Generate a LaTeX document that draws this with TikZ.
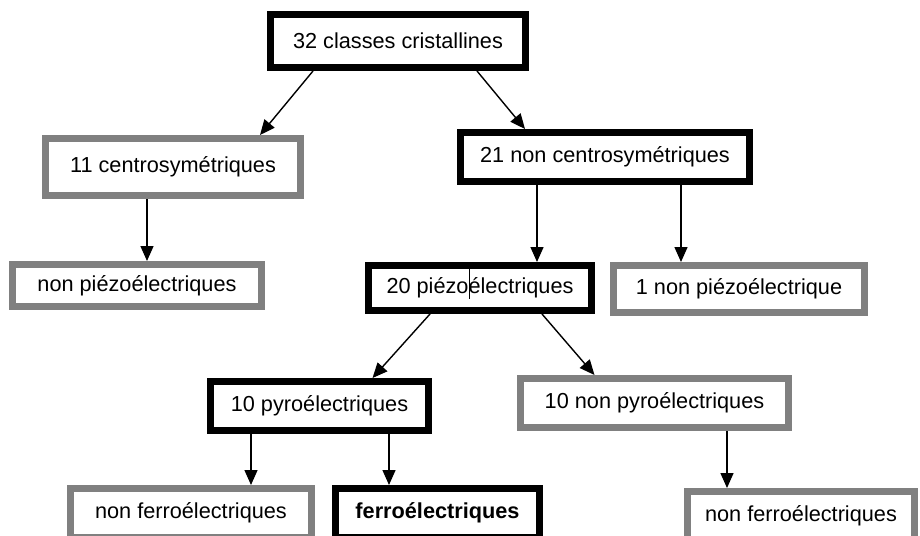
\documentclass[tikz,border=0pt]{standalone}
\usepackage{fontspec}
\setmainfont{Liberation Sans}
\usetikzlibrary{arrows.meta}

\begin{document}
\begin{tikzpicture}[x=1pt, y=-1pt, >={Triangle[width=13pt,length=15pt]},
  noir/.style={draw=black, line width=7pt, fill=white, inner sep=0pt, font=\fontsize{21.7}{26}\selectfont},
  gris/.style={noir, draw=black!50},
  fleche/.style={->, line width=1.4pt}]
\useasboundingbox (0,0) rectangle (920,535);
\clip (0,0) rectangle (920,535);
\fill[white] (0,0) rectangle (920,535);

\node[noir, minimum width=255pt, minimum height=53pt] (classes) at (398,41) {32 classes cristallines};
\node[gris, minimum width=255pt, minimum height=57pt] (centro) at (173,167) {11 centrosymétriques};
\node[noir, minimum width=289pt, minimum height=49pt] (noncentro) at (605,157) {21 non centrosymétriques};
\node[gris, minimum width=249pt, minimum height=42pt] (nonpiezo) at (137,285.5) {non piézoélectriques};
\node[noir, minimum width=223pt, minimum height=45pt] (piezo) at (480,288) {20 piézo\smash{\rule[-5pt]{1pt}{30pt}}\hspace{-1pt}électriques};
\node[gris, minimum width=251pt, minimum height=47pt] (unpiezo) at (739,289) {1 non piézoélectrique};
\node[noir, minimum width=218pt, minimum height=49pt] (pyro) at (319.5,406) {10 pyroélectriques};
\node[gris, minimum width=268pt, minimum height=49pt] (nonpyro) at (654.5,403) {10 non pyroélectriques};
\node[gris, minimum width=241pt, minimum height=49pt] (nonferroA) at (191,513) {non ferroélectriques};
\node[noir, minimum width=204pt, minimum height=49pt] (ferro) at (437.5,513) {\bfseries ferroélectriques};
\node[gris, minimum width=227pt, minimum height=49pt] (nonferroB) at (801,516) {non ferroélectriques};

\draw[fleche] ([xshift=-85pt]classes.south) -- ([xshift=87pt]centro.north);
\draw[fleche] ([xshift=79pt]classes.south) -- ([xshift=-80pt]noncentro.north);
\draw[fleche] ([xshift=-26pt]centro.south) -- ([xshift=-26pt]centro.south |- nonpiezo.north);
\draw[fleche] ([xshift=-68pt]noncentro.south) -- ([xshift=-68pt]noncentro.south |- piezo.north);
\draw[fleche] ([xshift=76pt]noncentro.south) -- ([xshift=76pt]noncentro.south |- unpiezo.north);
\draw[fleche] ([xshift=-50pt]piezo.south) -- ([xshift=53pt]pyro.north);
\draw[fleche] ([xshift=62pt]piezo.south) -- ([xshift=-60pt]nonpyro.north);
\draw[fleche] ([xshift=-68.5pt]pyro.south) -- ([xshift=-68.5pt]pyro.south |- nonferroA.north);
\draw[fleche] ([xshift=69.5pt]pyro.south) -- ([xshift=69.5pt]pyro.south |- ferro.north);
\draw[fleche] ([xshift=72.5pt]nonpyro.south) -- ([xshift=72.5pt]nonpyro.south |- nonferroB.north);

\end{tikzpicture}
\end{document}
